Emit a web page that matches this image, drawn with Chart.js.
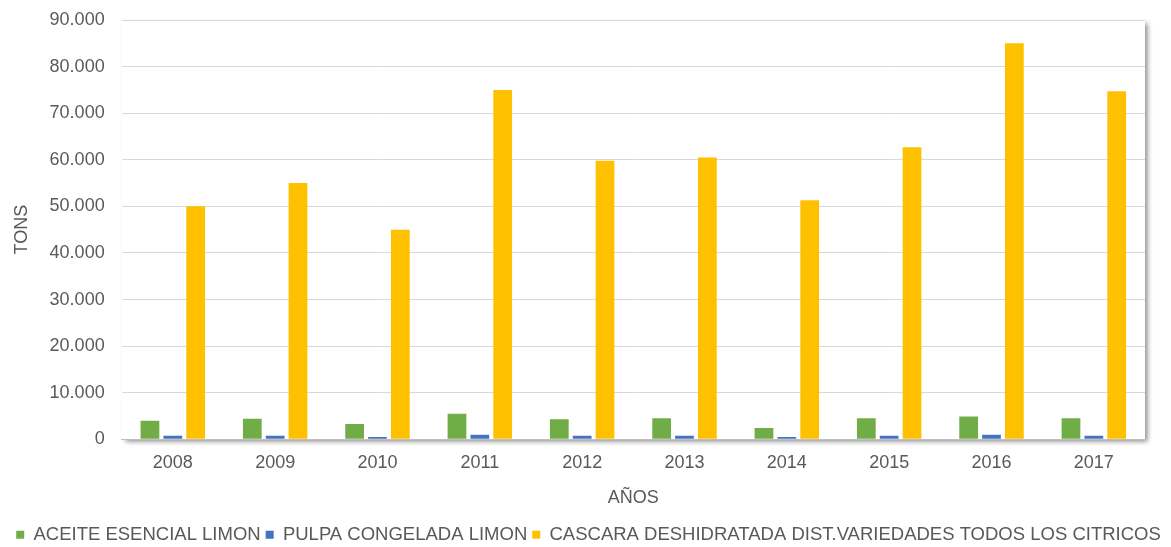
<!DOCTYPE html>
<html>
<head>
<meta charset="utf-8">
<script src="https://cdn.jsdelivr.net/npm/chart.js@4/dist/chart.umd.min.js"></script>
<style>
  body { margin: 0; background: #fff; }
  #wrap { width: 1171px; height: 547px; position: relative; }
</style>
</head>
<body>
<div id="wrap"><canvas id="chart"></canvas></div>
<script>
var years = ["2008","2009","2010","2011","2012","2013","2014","2015","2016","2017"];
var aceite = [4000, 4400, 3300, 5500, 4300, 4500, 2400, 4500, 4900, 4500];
var pulpa = [780, 750, 500, 1000, 750, 750, 500, 750, 1000, 750];
var cascara = [50000, 55000, 45000, 75000, 59800, 60500, 51300, 62700, 85000, 74700];
var yTicks = [0, 10000, 20000, 30000, 40000, 50000, 60000, 70000, 80000, 90000];

function puntos(v){
  return v.toString().replace(/\B(?=(\d{3})+(?!\d))/g, ".");
}

// sombra del area del grafico, como en excel
var sombra = {
  id: 'sombra',
  beforeDraw: function(chart){
    var a = chart.chartArea;
    var ctx = chart.ctx;
    ctx.save();
    ctx.shadowColor = 'rgba(0,0,0,0.45)';
    ctx.shadowBlur = 5;
    ctx.shadowOffsetX = 3;
    ctx.shadowOffsetY = 3;
    ctx.fillStyle = '#fff';
    ctx.fillRect(a.left, a.top, a.right - a.left, a.bottom - a.top);
    ctx.restore();
  }
};

var ctx = document.getElementById('chart');
var chart = new Chart(ctx, {
  type: 'bar',
  plugins: [sombra],
  data: {
    labels: years,
    datasets: [{
      label: "ACEITE ESENCIAL LIMON",
      backgroundColor: '#70ad47',
      data: aceite
    },{
      label: "PULPA CONGELADA LIMON",
      backgroundColor: '#4472c4',
      data: pulpa
    },{
      label: "CASCARA DESHIDRATADA DIST.VARIEDADES TODOS LOS CITRICOS",
      backgroundColor: '#ffc000',
      data: cascara
    }]
  },
  options: {
    responsive: true,
    maintainAspectRatio: false,
    animation: false,
    layout: { padding: { top: 0, right: 0, left: 6, bottom: -7 } },
    datasets: { bar: { categoryPercentage: 0.67, barPercentage: 0.82 } },
    plugins: {
      tooltip: { enabled: false },
      legend: {
        position: 'bottom',
        labels: {
          color: '#595959',
          font: { family: 'Liberation Sans', size: 18.5 },
          boxWidth: 8,
          boxHeight: 8,
          padding: 5
        }
      }
    },
    scales: {
      x: {
        grid: { display: false, drawTicks: false },
        border: { display: true, color: '#bfbfbf' },
        ticks: { color: '#595959', font: { family: 'Liberation Sans', size: 18 }, padding: 13 },
        title: { display: true, text: 'AÑOS', color: '#595959', font: { family: 'Liberation Sans', size: 18 }, padding: { top: 0, bottom: 12 } }
      },
      y: {
        min: 0,
        max: 90000,
        afterBuildTicks: function(axis){
          axis.ticks = yTicks.map(function(v){ return { value: v }; });
        },
        afterFit: function(axis){ axis.paddingTop = 20; },
        grid: { color: '#d9d9d9', drawTicks: false },
        border: { display: false },
        ticks: {
          color: '#595959',
          font: { family: 'Liberation Sans', size: 18 },
          padding: 17,
          callback: function(v){ return puntos(v); }
        },
        title: { display: true, text: 'TONS', color: '#595959', font: { family: 'Liberation Sans', size: 18 }, padding: { top: 5, bottom: 0 } }
      },
      // eje vacio solo para dejar margen a la derecha
      derecha: {
        position: 'right',
        grid: { display: false, drawTicks: false },
        border: { display: false },
        ticks: { display: false },
        afterFit: function(axis){ axis.width = 26; }
      }
    }
  }
});
</script>
</body>
</html>
